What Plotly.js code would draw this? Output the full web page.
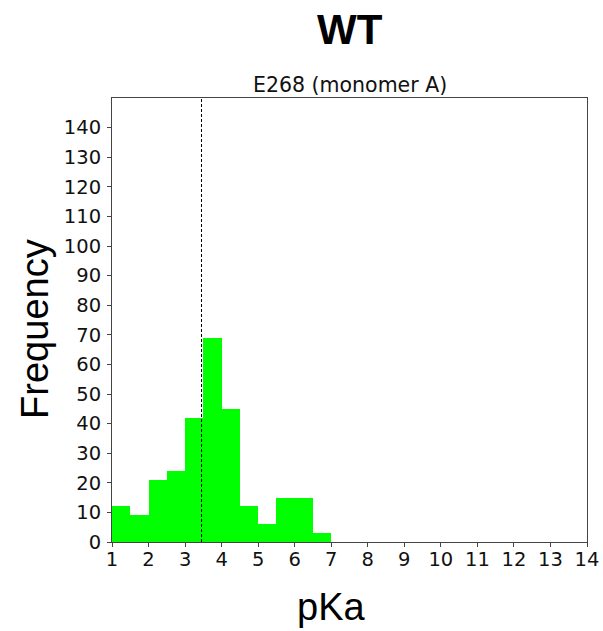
<!DOCTYPE html>
<html>
<head>
<meta charset="utf-8">
<script src="https://cdn.plot.ly/plotly-3.0.1.min.js"></script>
<style>html,body{margin:0;padding:0;background:#fff;}#chart{width:603px;height:631px;}</style>
</head>
<body>
<div id="chart"></div>
<script>
// Histogram bins (left edges), bin width and counts
const binStarts = [1.0, 1.5, 2.0, 2.5, 3.0, 3.5, 4.0, 4.5, 5.0, 5.5, 6.0, 6.5];
const binWidth = 0.5;
const counts = [12, 9, 21, 24, 42, 69, 45, 12, 6, 15, 15, 3];
const markerPKa = 3.45;
const xTicks = [1,2,3,4,5,6,7,8,9,10,11,12,13,14];
const yTicks = [0,10,20,30,40,50,60,70,80,90,100,110,120,130,140];

const tickFont = {family: 'DejaVu Sans', size: 19.5, color: '#111'};
const axisCommon = {
  showgrid: false, zeroline: false, showline: true, mirror: true,
  linecolor: '#444', linewidth: 1, ticks: 'outside', ticklen: 4,
  tickcolor: '#444', tickwidth: 1, tickfont: tickFont
};

const data = [{
  type: 'bar',
  x: binStarts.map(b => b + binWidth / 2),
  y: counts,
  width: binWidth,
  marker: {color: '#00ff00', line: {width: 0}},
  hoverinfo: 'x+y'
}];

const layout = {
  width: 603, height: 631,
  margin: {l: 112, r: 16, t: 98, b: 89},
  paper_bgcolor: '#fff', plot_bgcolor: '#fff',
  showlegend: false,
  bargap: 0,
  xaxis: Object.assign({}, axisCommon, {
    range: [1, 14], tickvals: xTicks, ticktext: xTicks.map(String),
    ticklabelstandoff: -4
  }),
  yaxis: Object.assign({}, axisCommon, {
    range: [0, 150], tickvals: yTicks, ticktext: yTicks.map(String),
    ticklabelstandoff: 2
  }),
  shapes: [{
    type: 'line', xref: 'x', yref: 'paper', x0: markerPKa, x1: markerPKa, y0: 0, y1: 1,
    line: {color: '#000', width: 1, dash: '3px,2px'}
  }],
  annotations: [
    {text: '<b>WT</b>', xref: 'paper', yref: 'paper', x: 0.5, y: 1, yshift: 69,
     xanchor: 'center', yanchor: 'middle', showarrow: false,
     font: {family: 'Liberation Sans', size: 42, color: '#000'}},
    {text: 'E268 (monomer A)', xref: 'paper', yref: 'paper', x: 0.5, y: 1, yshift: 13,
     xanchor: 'center', yanchor: 'middle', showarrow: false,
     font: {family: 'DejaVu Sans', size: 20.5, color: '#111'}},
    {text: 'pKa', xref: 'paper', yref: 'paper', x: 0.462, y: 0, yshift: -65,
     xanchor: 'center', yanchor: 'middle', showarrow: false,
     font: {family: 'Liberation Sans', size: 38, color: '#000'}},
    {text: 'Frequency', xref: 'paper', yref: 'paper', x: 0, xshift: -77, y: 0.48,
     xanchor: 'center', yanchor: 'middle', showarrow: false, textangle: -90,
     font: {family: 'Liberation Sans', size: 38, color: '#000'}}
  ]
};

Plotly.newPlot('chart', data, layout, {displayModeBar: false, staticPlot: true});
</script>
</body>
</html>
